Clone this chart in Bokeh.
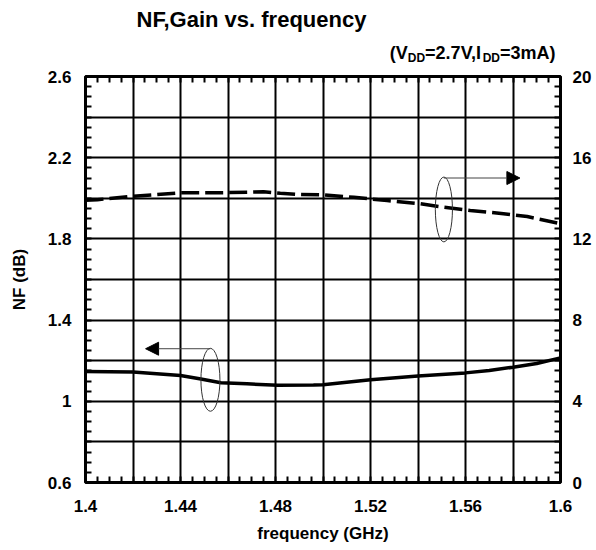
from bokeh.plotting import figure
from bokeh.layouts import column
from bokeh.models import Range1d, LinearAxis, FixedTicker, Arrow, NormalHead
from bokeh.core.properties import value
from bokeh.embed import file_html
from bokeh.resources import INLINE

# ---- data ----
freq_nf = [1.400, 1.420, 1.440, 1.448, 1.457, 1.468, 1.481, 1.496, 1.500,
           1.520, 1.540, 1.560, 1.570, 1.580, 1.590, 1.600]
nf_db = [1.147, 1.144, 1.127, 1.111, 1.091, 1.086, 1.079, 1.080, 1.081,
         1.106, 1.125, 1.140, 1.152, 1.168, 1.186, 1.214]

freq_gain = [1.400, 1.405, 1.420, 1.430, 1.440, 1.455, 1.475, 1.482, 1.490,
             1.500, 1.513, 1.527, 1.541, 1.551, 1.562, 1.576, 1.586, 1.600]
gain_db = [13.90, 13.93, 14.10, 14.18, 14.27, 14.27, 14.32, 14.25, 14.19,
           14.17, 14.05, 13.89, 13.73, 13.56, 13.40, 13.24, 13.10, 12.75]

x_ticks = [1.4, 1.44, 1.48, 1.52, 1.56, 1.6]
x_tick_labels = ["1.4", "1.44", "1.48", "1.52", "1.56", "1.6"]
nf_ticks = [0.6, 1, 1.4, 1.8, 2.2, 2.6]
nf_tick_labels = ["0.6", "1", "1.4", "1.8", "2.2", "2.6"]
gain_ticks = [0, 4, 8, 12, 16, 20]
gain_tick_labels = ["0", "4", "8", "12", "16", "20"]

title_text = "NF,Gain vs. frequency"
cond_main = ["(V", "=2.7V,I", "=3mA)"]
cond_sub = ["DD", "DD"]

# annotation marks (ellipse centre x, y, width, height) and arrows
nf_marker = [1.4526, 1.106, 0.008, 0.31]
nf_arrow = [1.4526, 1.259, 1.4253, 1.259]
gain_marker = [1.5509, 13.45, 0.0072, 3.2]
gain_arrow = [1.5509, 15.0, 1.5829, 15.0]

FONT = "Liberation Sans"
W = 596
HEAD_H = 66
FRAME_L, FRAME_R = 85, 560

# ---- header (title + conditions); its frame is aligned with the main frame ----
head = figure(width=W, height=HEAD_H, x_range=Range1d(FRAME_L, FRAME_R), y_range=Range1d(HEAD_H, 0),
              output_backend="svg", toolbar_location=None,
              x_axis_type=None, y_axis_type=None,
              min_border_left=0, min_border_right=0, min_border_top=0, min_border_bottom=0)
head.grid.visible = False
head.outline_line_color = None

head.text(x=[251], y=[19], text=[title_text], text_align="center", text_baseline="middle",
          text_font=value(FONT), text_font_style="bold", text_font_size="22px", text_color="black")
head.text(x=[389.3, 424.6, 499.5], y=[52, 52, 52], text=cond_main, text_align="left",
          text_baseline="middle", text_font=value(FONT), text_font_style="bold",
          text_font_size="18px", text_color="black")
head.text(x=[407.3, 482.2], y=[57.5, 57.5], text=cond_sub, text_align="left",
          text_baseline="middle", text_font=value(FONT), text_font_style="bold",
          text_font_size="12px", text_color="black")

# ---- main plot ----
p = figure(width=W, height=550 - HEAD_H - 2, x_range=Range1d(1.4, 1.6), y_range=Range1d(0.6, 2.6),
           output_backend="svg", toolbar_location=None,
           min_border_left=FRAME_L, min_border_right=W - FRAME_R, min_border_top=76 - HEAD_H,
           min_border_bottom=66)
p.extra_y_ranges = {"gain": Range1d(0, 20)}

x_minor = [round(1.4 + 0.005 * i, 4) for i in range(41)]
nf_minor = [round(0.6 + 0.05 * i, 4) for i in range(41)]
gain_minor = [round(0.5 * i, 4) for i in range(41)]

p.xgrid.ticker = FixedTicker(ticks=[round(1.4 + 0.02 * i, 4) for i in range(11)])
p.ygrid.ticker = FixedTicker(ticks=[round(0.6 + 0.2 * i, 4) for i in range(11)])
for g in (p.xgrid, p.ygrid):
    g.grid_line_color = "black"
    g.grid_line_width = 2
    g.grid_line_alpha = 1.0

p.outline_line_color = "black"
p.outline_line_width = 3
p.outline_line_alpha = 1.0


def style_axis(ax):
    ax.axis_line_color = None
    ax.major_tick_in = 0
    ax.major_tick_out = 0
    ax.minor_tick_in = 6
    ax.minor_tick_out = 0
    ax.minor_tick_line_color = "black"
    ax.minor_tick_line_width = 2
    ax.major_label_text_font = FONT
    ax.major_label_text_font_style = "bold"
    ax.major_label_text_font_size = "17px"
    ax.major_label_text_color = "black"
    ax.axis_label_text_font = FONT
    ax.axis_label_text_font_style = "bold"
    ax.axis_label_text_font_size = "17px"
    ax.axis_label_text_color = "black"


xa = p.xaxis[0]
xa.ticker = FixedTicker(ticks=x_ticks, minor_ticks=x_minor)
xa.major_label_overrides = dict(zip(x_ticks, x_tick_labels))
xa.axis_label = "frequency (GHz)"
style_axis(xa)
xa.major_label_standoff = 17
xa.axis_label_standoff = 9

ya = p.yaxis[0]
ya.ticker = FixedTicker(ticks=nf_ticks, minor_ticks=nf_minor)
ya.major_label_overrides = dict(zip(nf_ticks, nf_tick_labels))
ya.axis_label = "NF (dB)"
style_axis(ya)
ya.major_label_standoff = 14
ya.axis_label_standoff = 16

ra = LinearAxis(y_range_name="gain", ticker=FixedTicker(ticks=gain_ticks, minor_ticks=gain_minor))
ra.major_label_overrides = dict(zip(gain_ticks, gain_tick_labels))
style_axis(ra)
ra.major_label_standoff = 12
p.add_layout(ra, "right")

ta = LinearAxis(ticker=FixedTicker(ticks=[], minor_ticks=x_minor))
style_axis(ta)
ta.major_label_standoff = 0
ta.axis_label_standoff = 0
p.add_layout(ta, "above")

# curves
p.line(freq_nf, nf_db, line_color="black", line_width=3.5)
p.line(freq_gain, gain_db, y_range_name="gain", line_color="black", line_width=3.5,
       line_dash="18 6")

# ellipses and arrows
p.ellipse(x=[nf_marker[0]], y=[nf_marker[1]], width=[nf_marker[2]], height=[nf_marker[3]],
          fill_color=None, line_color="#333333", line_width=1)
p.ellipse(x=[gain_marker[0]], y=[gain_marker[1]], width=[gain_marker[2]], height=[gain_marker[3]],
          fill_color=None, line_color="#333333", line_width=1, y_range_name="gain")
p.add_layout(Arrow(end=NormalHead(size=13, fill_color="black", line_color="black"),
                   x_start=nf_arrow[0], y_start=nf_arrow[1], x_end=nf_arrow[2], y_end=nf_arrow[3],
                   line_color="#444444", line_width=1))
p.add_layout(Arrow(end=NormalHead(size=13, fill_color="black", line_color="black"),
                   x_start=gain_arrow[0], y_start=gain_arrow[1], x_end=gain_arrow[2], y_end=gain_arrow[3],
                   line_color="#444444", line_width=1, y_range_name="gain"))

layout = column(head, p, spacing=0)
open("out.html", "w").write(file_html(layout, INLINE))
